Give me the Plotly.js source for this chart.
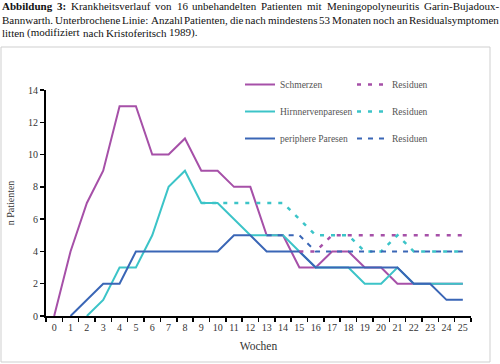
<!DOCTYPE html>
<html>
<head>
<meta charset="utf-8">
<script src="https://cdn.plot.ly/plotly-3.0.1.min.js"></script>
<style>
html,body{margin:0;padding:0;background:#fff;}
#chart{width:500px;height:364px;}
</style>
</head>
<body>
<div id="chart"></div>
<script>
// ---- data ----
const weeks = ['0','1','2','3','4','5','6','7','8','9','10','11','12','13','14','15','16','17','18','19','20','21','22','23','24','25'];

const schmerzenWeeks = weeks.slice(0);
const schmerzen = [0,4,7,9,13,13,10,10,11,9,9,8,8,5,5,3,3,4,4,3,3,2,2,2,2,2];

const hirnWeeks = weeks.slice(2);
const hirn = [0,1,3,3,5,8,9,7,7,6,5,5,5,4,3,3,3,2,2,3,2,2,2,2];

const periphWeeks = weeks.slice(1);
const periph = [0,1,2,2,4,4,4,4,4,4,5,5,4,4,4,3,3,3,3,3,3,2,2,1,1];

const schmerzenResWeeks = weeks.slice(15);
const schmerzenRes = [4,4,5,5,5,5,5,5,5,5,5];

const hirnResWeeks = weeks.slice(9);
const hirnRes = [7,7,7,7,7,7,6,5,5,5,4,4,5,4,4,4,4];

const periphResWeeks = weeks.slice(13);
const periphRes = [5,5,5,4,4,4,4,4,4,4,4,4,4];

const yTicks = [0,2,4,6,8,10,12,14];

const captionLines = [
  {words: ['<b>Abbildung</b>','<b>3:</b>','Krankheitsverlauf','von','16','unbehandelten','Patienten','mit','Meningopolyneuritis','Garin-Bujadoux-'], justify: true},
  {words: ['Bannwarth.','Unterbrochene','Linie:','Anzahl','Patienten,','die','nach','mindestens','53','Monaten','noch','an','Residualsymptomen'], justify: true},
  {words: ['litten','(modifiziert','nach','Kristoferitsch','1989).'], justify: false}
];

// ---- style ----
const PURPLE = '#a650a8', TEAL = '#3cc4c8', BLUE = '#3a66b6';
const SERIF = 'Liberation Serif, Times New Roman, serif';

// plot area in pixels
const L = 46, R = 471, T = 90, B = 316, W = 500, H = 364;
const px2x = p => (p - L) / (R - L);
const py2y = p => (B - p) / (B - T);

const traces = [
  {x: schmerzenWeeks, y: schmerzen, name: 'Schmerzen', legend: 'legend', legendgroup: 'a',
   mode: 'lines', line: {color: PURPLE, width: 2}},
  {x: hirnWeeks, y: hirn, name: 'Hirnnervenparesen', legend: 'legend', legendgroup: 'b',
   mode: 'lines', line: {color: TEAL, width: 2}},
  {x: periphWeeks, y: periph, name: 'periphere Paresen', legend: 'legend', legendgroup: 'c',
   mode: 'lines', line: {color: BLUE, width: 2}},
  {x: schmerzenResWeeks, y: schmerzenRes, name: 'Residuen', legend: 'legend2', legendgroup: 'd',
   mode: 'lines', line: {color: PURPLE, width: 2.5, dash: '4px,7px'}},
  {x: hirnResWeeks, y: hirnRes, name: 'Residuen', legend: 'legend2', legendgroup: 'e',
   mode: 'lines', line: {color: TEAL, width: 2.5, dash: '4px,7px'}},
  {x: periphResWeeks, y: periphRes, name: 'Residuen', legend: 'legend2', legendgroup: 'f',
   mode: 'lines', line: {color: BLUE, width: 2, dash: '5px,6px'}}
];

// caption justification via canvas text measurement
const cv = document.createElement('canvas').getContext('2d');
const CAP_SIZE = 11;
function measure(word) {
  const bold = word.indexOf('<b>') === 0;
  const plain = word.replace(/<\/?b>/g, '');
  cv.font = (bold ? 'bold ' : '') + CAP_SIZE + "px 'Liberation Serif'";
  return cv.measureText(plain).width;
}
const annotations = [];
const capY = [6, 20, 33];
const capLeft = 0, capRight = 497;
captionLines.forEach((ln, i) => {
  const widths = ln.words.map(measure);
  const total = widths.reduce((a, b) => a + b, 0);
  cv.font = CAP_SIZE + "px 'Liberation Serif'";
  const sp = cv.measureText(' ').width;
  const gap = ln.justify ? (capRight - capLeft - total) / (ln.words.length - 1) : sp;
  let xpos = capLeft;
  ln.words.forEach((w, j) => {
    annotations.push({
      text: w, xref: 'paper', yref: 'paper', x: px2x(xpos), y: py2y(capY[i]),
      xanchor: 'left', yanchor: 'middle', showarrow: false,
      font: {family: SERIF, size: CAP_SIZE, color: '#111'}
    });
    xpos += widths[j] + gap;
  });
});

const layout = {
  width: W, height: H,
  margin: {l: L, r: W - R, t: T, b: H - B, pad: 0},
  paper_bgcolor: '#fff', plot_bgcolor: '#fff',
  font: {family: SERIF, size: 10, color: '#333'},
  showlegend: true,
  xaxis: {
    type: 'category', categoryorder: 'array', categoryarray: weeks,
    range: [-0.5, 25.5], tickson: 'boundaries', tickangle: 0,
    showline: true, linecolor: '#000', linewidth: 2,
    ticks: 'outside', ticklen: 4, tickwidth: 1.5, tickcolor: '#000',
    ticklabelstandoff: 1,
    showgrid: false, zeroline: false,
    tickfont: {family: SERIF, size: 10, color: '#333'},
    title: {text: 'Wochen', font: {family: SERIF, size: 11.5, color: '#333'}, standoff: 10}
  },
  yaxis: {
    range: [0, 14], tickvals: yTicks, ticktext: yTicks.map(String),
    showline: true, linecolor: '#000', linewidth: 2,
    ticks: 'outside', ticklen: 4, tickwidth: 1.5, tickcolor: '#000',
    showgrid: false, zeroline: false,
    tickfont: {family: SERIF, size: 10, color: '#333'},
    title: {text: 'n Patienten', font: {family: SERIF, size: 10, color: '#333'}, standoff: 12}
  },
  legend: {
    x: px2x(240), y: py2y(70), xanchor: 'left', yanchor: 'top',
    bgcolor: 'rgba(0,0,0,0)', tracegroupgap: 8,
    font: {family: SERIF, size: 9.5, color: '#555'}
  },
  legend2: {
    x: px2x(352), y: py2y(70), xanchor: 'left', yanchor: 'top',
    bgcolor: 'rgba(0,0,0,0)', tracegroupgap: 8,
    font: {family: SERIF, size: 9.5, color: '#555'}
  },
  shapes: [
    {type: 'rect', xref: 'paper', yref: 'paper',
     x0: px2x(1), x1: px2x(490), y0: py2y(362), y1: py2y(47),
     line: {color: '#cfcfcf', width: 1}, fillcolor: 'rgba(0,0,0,0)', layer: 'below'}
  ],
  annotations: annotations
};

Plotly.newPlot('chart', traces, layout, {displayModeBar: false, staticPlot: true});
</script>
</body>
</html>
